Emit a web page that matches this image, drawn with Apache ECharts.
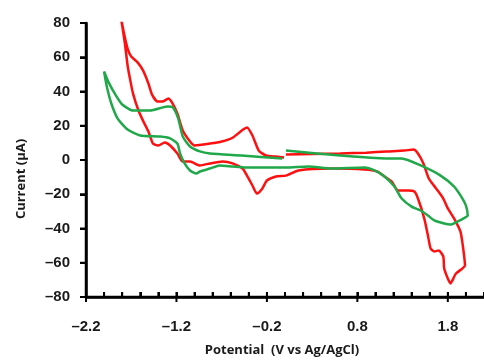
<!DOCTYPE html>
<html>
<head>
<meta charset="utf-8">
<script src="https://cdn.jsdelivr.net/npm/echarts@6/dist/echarts.min.js"></script>
<style>html,body{margin:0;padding:0;background:#fff}#c{width:484px;height:360px}</style>
</head>
<body>
<div id="c"></div>
<script>
// Potential (V vs Ag/AgCl) and current (µA)
var redX = [0.01,0.30,0.61,0.90,1.12,1.32,1.42,1.47,1.53,1.59,1.67,1.75,1.80,1.87,1.94,1.97,1.99,1.96,1.89,1.85,1.83,1.80,1.76,1.75,1.70,1.65,1.61,1.58,1.54,1.47,1.43,1.36,1.25,1.18,1.10,1.02,0.88,0.51,0.15,0.01,-0.10,-0.20,-0.25,-0.31,-0.36,-0.42,-0.47,-0.58,-0.69,-0.83,-0.94,-1.05,-1.13,-1.19,-1.27,-1.33,-1.40,-1.46,-1.51,-1.57,-1.62,-1.68,-1.71,-1.74,-1.77,-1.81,-1.78,-1.74,-1.70,-1.63,-1.57,-1.51,-1.47,-1.41,-1.35,-1.29,-1.25,-1.19,-1.13,-1.05,-1.00,-0.83,-0.70,-0.58,-0.47,-0.42,-0.36,-0.29,-0.21,-0.10,-0.01];
var redY = [3.2,3.5,3.8,4.3,5.0,5.5,6.1,3.8,-2.0,-10.8,-16.6,-22.5,-28.3,-34.2,-41.8,-51.7,-61.6,-63.4,-66.3,-70.4,-72.1,-69.2,-63.4,-56.4,-52.8,-53.4,-51.7,-44.1,-34.2,-22.5,-18.4,-17.8,-17.8,-12.6,-9.6,-6.7,-5.5,-5.0,-6.1,-9.1,-9.6,-12.0,-16.6,-19.6,-14.9,-9.1,-5.0,-2.0,-0.9,-2.0,-3.2,-0.9,-0.9,3.8,8.5,10.2,8.5,9.6,16.6,23.0,28.9,38.8,46.4,55.2,68.0,82.0,74.0,65.0,60.4,57.0,52.3,44.7,38.2,34.2,34.2,35.9,33.6,27.2,17.2,10.8,8.5,9.6,10.8,13.0,17.5,19.0,14.3,5.5,2.6,2.0,1.5];

var greenX = [0.01,0.61,1.12,1.29,1.50,1.72,1.87,1.94,2.00,2.02,1.97,1.91,1.83,1.76,1.65,1.58,1.50,1.40,1.29,1.21,1.10,0.99,0.88,0.51,0.26,0.01,-0.21,-0.43,-0.58,-0.72,-0.83,-0.94,-0.98,-1.05,-1.11,-1.16,-1.19,-1.27,-1.38,-1.60,-1.74,-1.85,-1.92,-1.97,-2.00,-1.95,-1.87,-1.80,-1.68,-1.49,-1.30,-1.24,-1.18,-1.13,-1.05,-0.94,-0.83,-0.48,-0.03];
var greenY = [5.5,2.6,0.9,0.9,-3.2,-9.1,-15.5,-20.7,-26.6,-32.4,-34.2,-35.9,-37.7,-37.1,-35.3,-32.4,-29.5,-27.2,-22.5,-15.5,-9.6,-6.1,-4.4,-5.0,-3.8,-4.4,-4.4,-4.4,-3.8,-3.2,-5.0,-6.7,-7.9,-6.1,-2.0,3.8,9.6,12.6,13.7,14.3,17.8,24.2,33.0,42.9,51.7,45.3,37.7,32.4,28.9,28.9,31.2,30.7,24.2,13.7,7.9,5.0,3.8,2.6,0.9];

var xMajorTicks = [-2.2,-1.2,-0.2,0.8,1.8];
var xMinorStep = 0.2;
var yTicks = [-80,-60,-40,-20,0,20,40,60,80];

function pairs(xs, ys){ return xs.map(function(x,i){ return [x, ys[i]]; }); }
function fmtNum(v){ return String(v).replace('-', '\u2013'); }

var ink = '#000000';
var tickFont = {fontFamily:'Liberation Sans', fontWeight:'bold', fontSize:15, color:'#1a1a1a'};

var chart = echarts.init(document.getElementById('c'), null, {renderer:'canvas'});
chart.setOption({
  animation:false,
  grid:{left:86, right:-4, top:23, bottom:63},
  xAxis:{
    type:'value', min:-2.2, max:2.2, interval:0.2, position:'bottom',
    axisLine:{show:true, onZero:false, lineStyle:{color:ink, width:2.5}},
    axisTick:{show:true, inside:true, length:5, lineStyle:{color:ink, width:2}},
    splitLine:{show:false},
    axisLabel:Object.assign({show:true, margin:22, showMaxLabel:false,
      formatter:function(v){
        for (var i=0;i<xMajorTicks.length;i++){ if (Math.abs(v-xMajorTicks[i])<1e-6) return fmtNum(xMajorTicks[i].toFixed(1)); }
        return '';
      }}, tickFont)
  },
  yAxis:{
    type:'value', min:-80, max:80, interval:20,
    axisLine:{show:true, onZero:false, lineStyle:{color:ink, width:2.5}},
    axisTick:{show:true, inside:false, length:6, lineStyle:{color:ink, width:2}},
    splitLine:{show:false},
    axisLabel:Object.assign({show:true, margin:16, formatter:function(v){ return fmtNum(v); }}, tickFont)
  },
  series:[
    {type:'line', data:pairs(redX, redY), showSymbol:false, smooth:0.2,
     lineStyle:{color:'#ff1010', width:2.5}, itemStyle:{color:'#ff1010'}},
    {type:'line', data:pairs(greenX, greenY), showSymbol:false, smooth:0.2,
     lineStyle:{color:'#20a84a', width:2.5}, itemStyle:{color:'#20a84a'}}
  ]
});

// Axis frame drawn from the library's own scales (convertToPixel)
function px(x, y){ return chart.convertToPixel({gridIndex:0}, [x, y]); }
var g = [];
var o = px(-2.2, -80), yt = px(-2.2, 80), xr = px(2.2, -80);
g.push({type:'line', z:100, shape:{x1:o[0], y1:yt[1], x2:o[0], y2:o[1]+1}, style:{stroke:'#000', lineWidth:2.5}});
g.push({type:'line', z:100, shape:{x1:o[0]-1, y1:o[1], x2:xr[0], y2:o[1]}, style:{stroke:'#000', lineWidth:2.5}});
yTicks.forEach(function(v){
  var p = px(-2.2, v);
  g.push({type:'line', z:100, shape:{x1:p[0]-6, y1:p[1], x2:p[0], y2:p[1]}, style:{stroke:'#000', lineWidth:2}});
});
for (var k = 0; k <= 22; k++) {
  var xv = -2.2 + k * xMinorStep;
  var p = px(xv, -80);
  var major = (k % 5 === 0);
  g.push({type:'line', z:100, shape:{x1:p[0], y1:p[1]-5, x2:p[0], y2:p[1] + (major ? 5 : 0)}, style:{stroke:'#000', lineWidth:2}});
}
g.push({type:'text', z:100, x:21, y:179, rotation:Math.PI/2,
  style:{text:'Current (\u03bcA)', textAlign:'center', textVerticalAlign:'middle', font:'bold 13px "Open Sans"', fill:'#1a1a1a'}});
g.push({type:'text', z:100, x:282, y:350,
  style:{text:'Potential  (V vs Ag/AgCl)', textAlign:'center', textVerticalAlign:'middle', font:'bold 13px "Open Sans"', fill:'#1a1a1a'}});
chart.setOption({graphic:g});
</script>
</body>
</html>
